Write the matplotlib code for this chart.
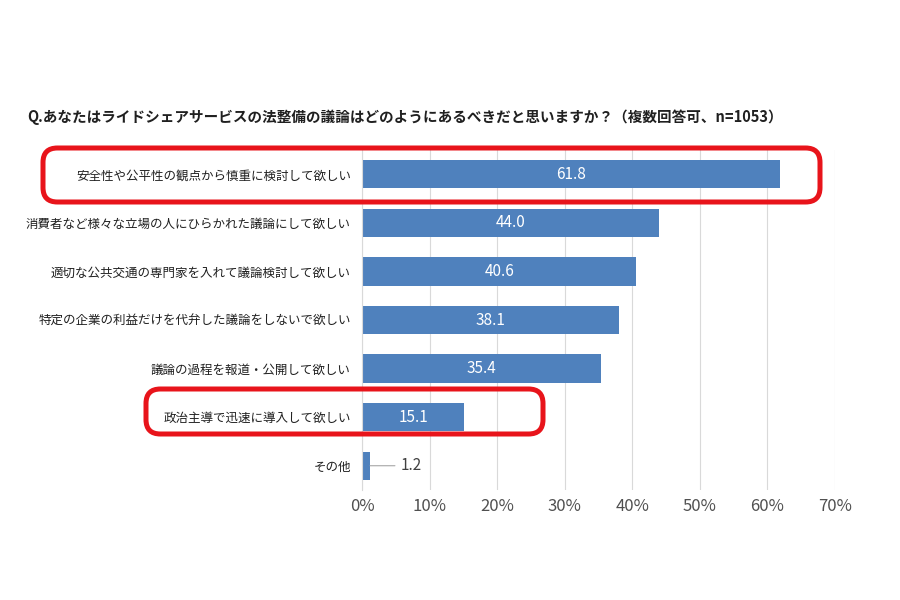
import numpy as np
import matplotlib.pyplot as plt
from matplotlib.patches import FancyBboxPatch

plt.rcParams['font.family'] = ['Noto Sans CJK JP', 'DejaVu Sans']

TITLE = "Q.あなたはライドシェアサービスの法整備の議論はどのようにあるべきだと思いますか？（複数回答可、n=1053）"
categories = [
    "安全性や公平性の観点から慎重に検討して欲しい",
    "消費者など様々な立場の人にひらかれた議論にして欲しい",
    "適切な公共交通の専門家を入れて議論検討して欲しい",
    "特定の企業の利益だけを代弁した議論をしないで欲しい",
    "議論の過程を報道・公開して欲しい",
    "政治主導で迅速に導入して欲しい",
    "その他",
]
values = [61.8, 44.0, 40.6, 38.1, 35.4, 15.1, 1.2]
xticks = [0, 10, 20, 30, 40, 50, 60, 70]

BAR_COLOR = '#4f81bd'
RED = '#e8141b'

fig = plt.figure(figsize=(9, 6), dpi=100)
ax = fig.add_axes([0.4022, 0.1833, 0.5256, 0.5667])

y = np.arange(len(categories))
ax.barh(y, values, height=0.58, color=BAR_COLOR, zorder=2)
ax.set_ylim(len(categories) - 0.5, -0.5)
ax.set_xlim(0, 70)
ax.set_xticks(xticks)
ax.set_xticklabels([f"{t}%" for t in xticks], fontsize=12, color='#505050')
ax.set_yticks(y)
ax.set_yticklabels(categories, fontsize=9, color='#202020')
ax.tick_params(length=0, pad=8)
ax.tick_params(axis='x', pad=6)
ax.grid(axis='x', color='#d9d9d9', lw=0.8, zorder=0)
for s in ['top', 'right', 'bottom']:
    ax.spines[s].set_visible(False)
ax.spines['left'].set_color('#d9d9d9')

for yi, v in zip(y, values):
    if v > 5:
        ax.text(v / 2, yi, f"{v:.1f}", color='white', ha='center', va='center', fontsize=11, zorder=3)
    else:
        ax.annotate(f"{v:.1f}", xy=(v, yi), xytext=(v + 4.5, yi), ha='left', va='center',
                    fontsize=11, color='#404040',
                    arrowprops=dict(arrowstyle='-', color='#a6a6a6', lw=0.8, shrinkA=2, shrinkB=0))

fig.text(27 / 900, 1 - 117 / 600, TITLE, fontsize=10.5, fontweight='bold', color='#202020', va='center', ha='left')

# red highlight frames (pixel placement)
def frame(x0, y0, x1, y1):
    w, h = (x1 - x0) / 900, (y1 - y0) / 600
    p = FancyBboxPatch((x0 / 900, 1 - y1 / 600), w, h, boxstyle="round,pad=0,rounding_size=0.016",
                       transform=fig.transFigure, fill=False, edgecolor=RED, lw=3.6,
                       mutation_aspect=1.5, zorder=10)
    fig.patches.append(p)

frame(43, 148, 820, 202)
frame(146, 389, 543, 434)

fig.savefig('out.png', dpi=100)
